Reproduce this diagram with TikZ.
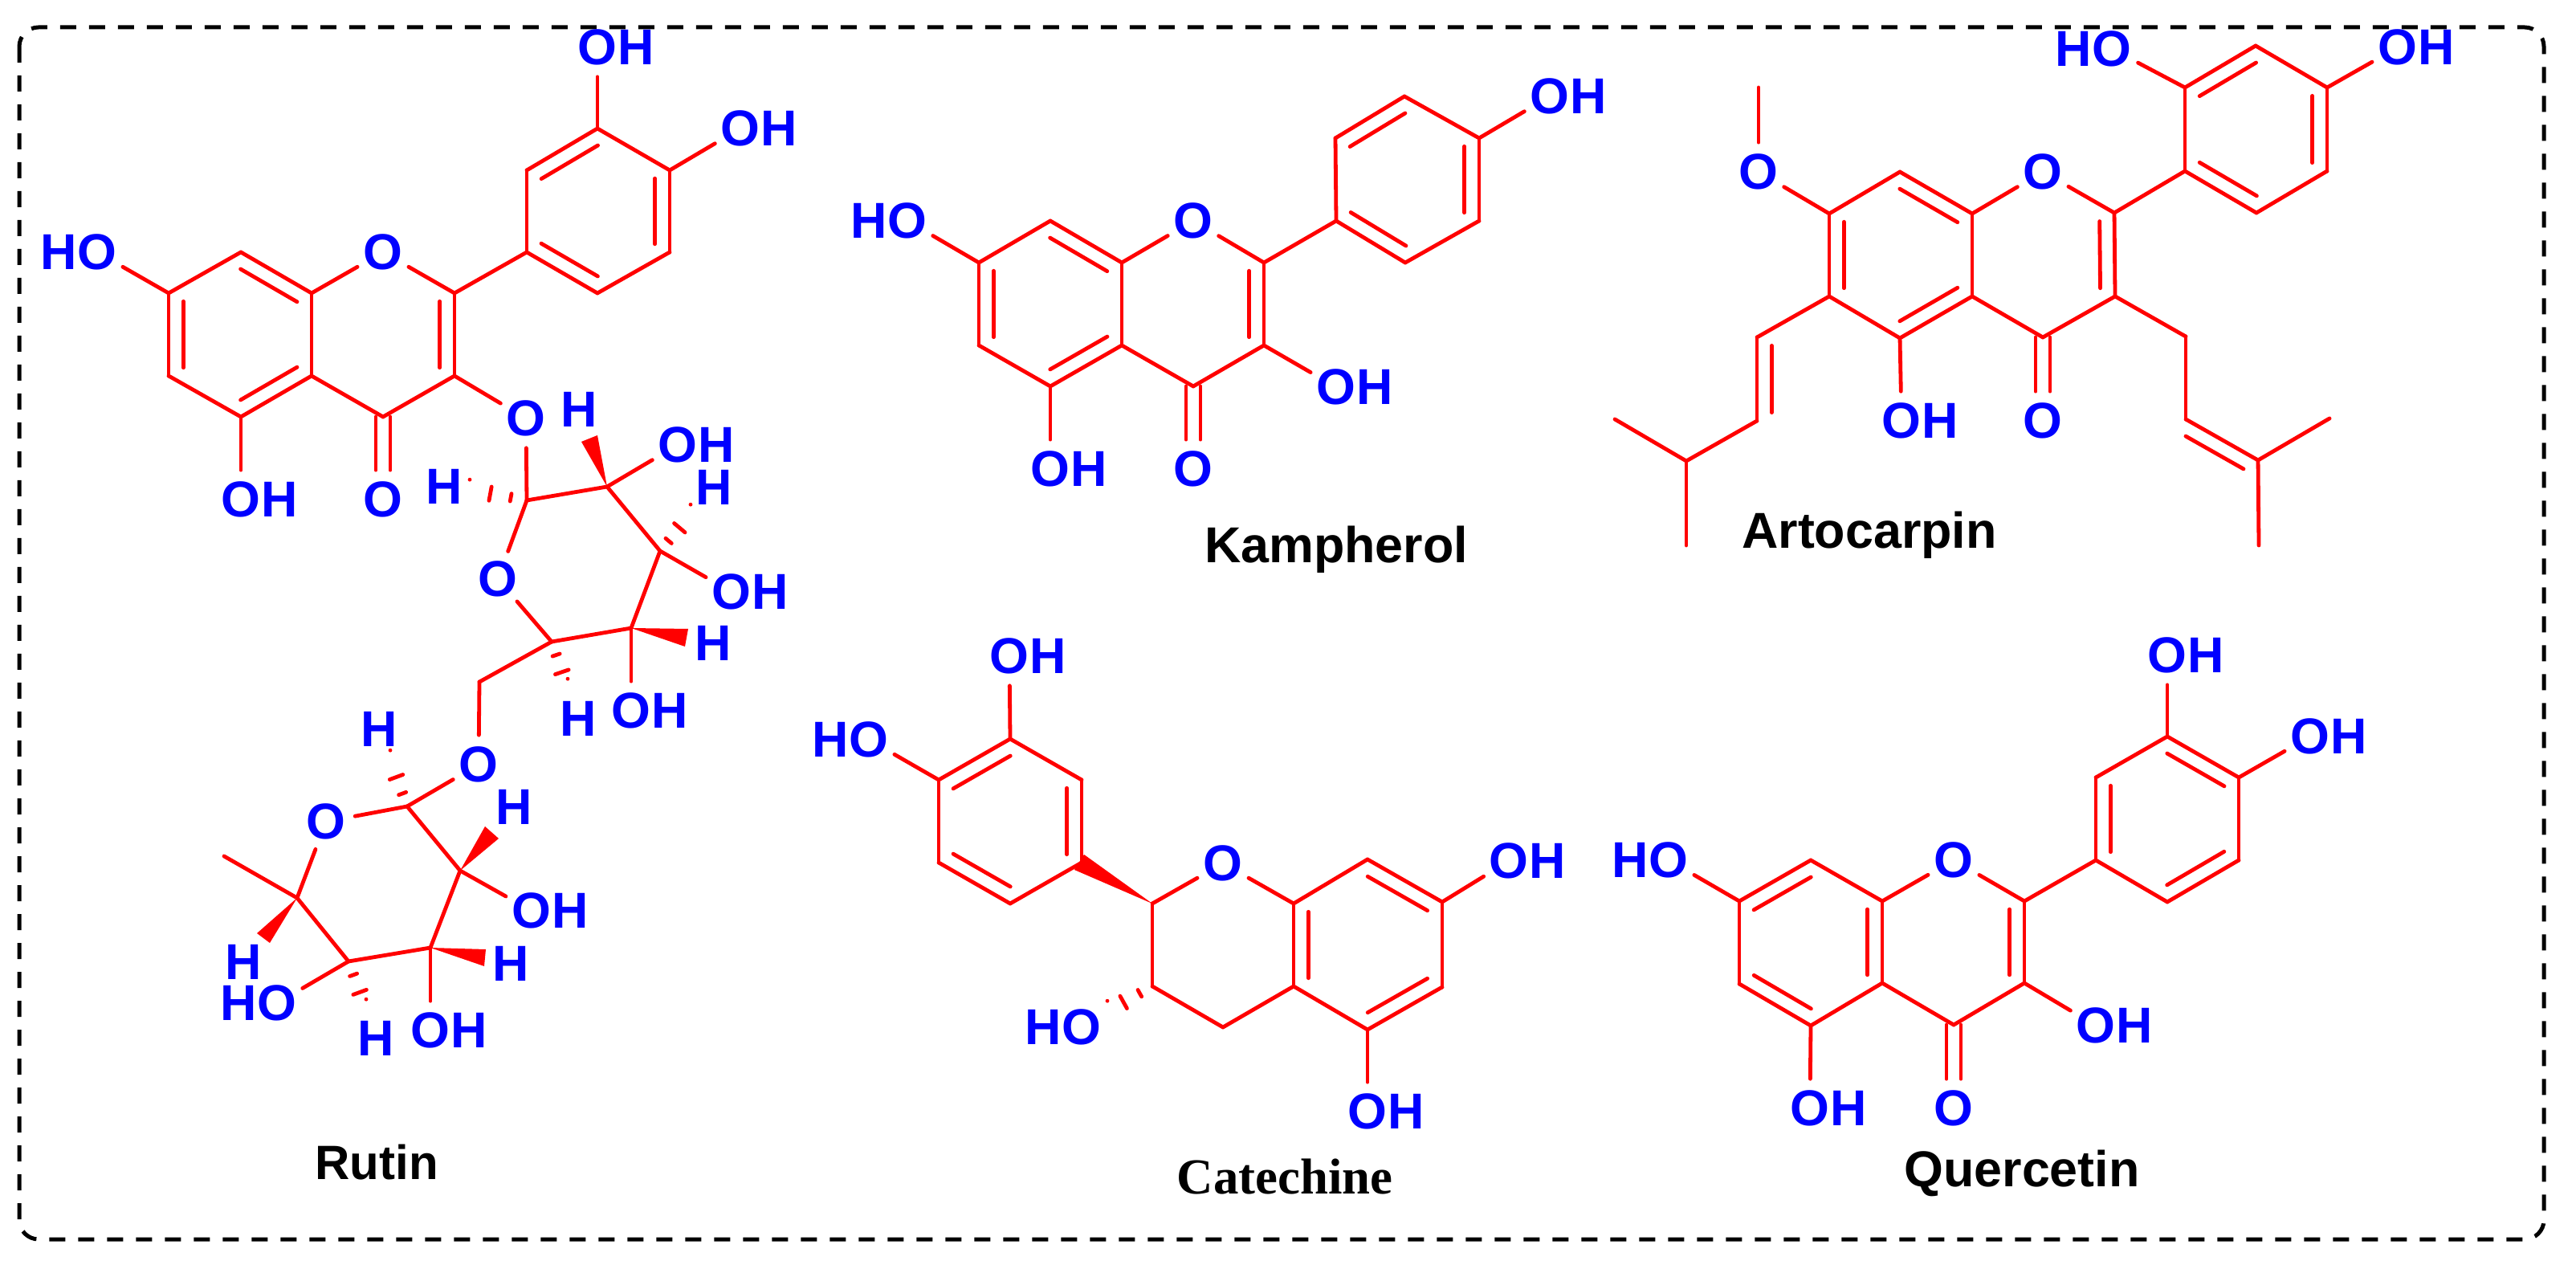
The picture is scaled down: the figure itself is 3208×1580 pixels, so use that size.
\documentclass[tikz,border=0pt]{standalone}
\usepackage{fontspec}
\setmainfont{Liberation Sans}
\newfontfamily\catfont{Liberation Serif}
\usetikzlibrary{calc,positioning}

\definecolor{bondred}{RGB}{255,0,0}
\definecolor{atomblue}{RGB}{0,0,255}

\tikzset{
  bond/.style={draw=bondred, line width=1.2pt, line cap=round, line join=round},
  atom/.style={circle, minimum size=18pt, inner sep=0pt, text=atomblue, font=\fontsize{15.7}{18}\selectfont\bfseries},
  hatom/.style={inner sep=0pt, text=atomblue, font=\fontsize{15.7}{18}\selectfont\bfseries},
  molname/.style={inner sep=0pt, font=\fontsize{15.7}{18}\selectfont\bfseries},
  frame/.style={draw=black, line width=1.25pt, dash pattern=on 5pt off 4pt, rounded corners=6pt}
}

% atoms and labels
\newcommand{\atoms}[1]{\foreach \n/\px/\py in {#1} \coordinate (\n) at (\px,\py);}
\newcommand{\oxy}[2]{\node[atom] (#1) at (#2) {O};}
\newcommand{\oh}[2]{\node[atom] (#1) at (#2) {O}; \node[hatom, right=-3.1pt of #1] (#1h) {H};}
\newcommand{\ho}[2]{\node[atom] (#1) at (#2) {O}; \node[hatom, left=-3.1pt of #1] (#1h) {H};}
\newcommand{\hyd}[2]{\node[hatom] (#1) at (#2) {H};}

% bonds
\newcommand{\bonds}[1]{\foreach \u/\v in {#1} \draw[bond] (\u) -- (\v);}
\newcommand{\inner}[1]{\foreach \u/\v in {#1}
  \draw[bond] ($(\u)!.1!(\v)!4.6pt!-90:(\v)$) -- ($(\u)!.9!(\v)!4.6pt!-90:(\v)$);}
\newcommand{\carbonyl}[2]{
  \draw[bond, transform canvas={xshift=2.25pt}] (#1) -- (#2);
  \draw[bond, transform canvas={xshift=-2.25pt}] (#1) -- (#2);}
\newcommand{\wedgebond}[3]{\fill[bondred] (#1) -- (#2) -- (#3) -- cycle;}
\newcommand{\hashbond}[2]{\foreach \t/\w in {.28/1.2,.64/2.2,1/3.2}
  \draw[bond] ($(#1)!\t!(#2)!\w pt!90:(#2)$) -- ($(#1)!\t!(#2)!\w pt!-90:(#2)$);}

\begin{document}
\begin{tikzpicture}[x=0.25pt, y=-0.25pt]
\useasboundingbox (0,0) rectangle (3208,1580);

% Frame
\draw[frame] (24,34) rectangle (3168,1543);

% Rutin, flavone part
\atoms{rA1/300/314, rA2/388/365, rA3/388/468, rA4/300/519, rA5/210/468, rA6/210/365,
  rC2/566/365, rC3/566/468, rC4/477/519,
  rB1/656/314, rB2/656/212, rB3/744/160, rB4/834/212, rB5/834/314, rB6/744/365}
\oxy{rO}{477,314}
\ho{rOa}{121,314}
\oh{rOb}{744,59}
\oh{rOc}{922,160}
\oh{rOd}{300,622}
\oxy{rOe}{477,622}
\oxy{rOf}{655,521}
\bonds{rA1/rA2, rA2/rA3, rA3/rA4, rA4/rA5, rA5/rA6, rA6/rA1, rA2/rO, rO/rC2, rC2/rC3, rC3/rC4, rC4/rA3,
  rC2/rB1, rB1/rB2, rB2/rB3, rB3/rB4, rB4/rB5, rB5/rB6, rB6/rB1,
  rA6/rOa, rB3/rOb, rB4/rOc, rA4/rOd, rC3/rOf}
\inner{rA1/rA2, rA3/rA4, rA5/rA6, rC2/rC3, rB2/rB3, rB4/rB5, rB6/rB1}
\carbonyl{rC4}{rOe}

% Rutin, first sugar
\atoms{rS1/656/623, rS2/756/606, rS3/822/686, rS4/786/782, rS5/687/799, rS6/597/849,
  rWa/724/550, rWb/744/542, rWc/857/783, rWd/853/805, rXa/585/610, rXb/860/641, rXc/707/858}
\oxy{rSo}{620,721}
\oh{rSa}{844,554}
\oh{rSb}{911,737}
\oh{rSc}{786,885}
\hyd{rHa}{553,606}
\hyd{rHb}{721,510}
\hyd{rHc}{889,607}
\hyd{rHd}{888,801}
\hyd{rHe}{720,895}
\bonds{rOf/rS1, rS1/rS2, rS2/rS3, rS3/rS4, rS4/rS5, rS5/rSo, rSo/rS1, rS5/rS6,
  rS2/rSa, rS3/rSb, rS4/rSc}
\wedgebond{rS2}{rWa}{rWb}
\wedgebond{rS4}{rWc}{rWd}
\hashbond{rS1}{rXa}
\hashbond{rS3}{rXb}
\hashbond{rS5}{rXc}

% Rutin, second sugar
\atoms{rT1/507/1004, rT2/573/1084, rT3/536/1180, rT4/434/1197, rT5/370/1118, rMe/279/1066,
  rWe/604/1029, rWf/621/1044, rWg/605/1182, rWh/603/1203, rWi/320/1162, rWj/336/1174,
  rXd/486/947, rXe/456/1257}
\oxy{rTo}{406,1023}
\oxy{rTl}{596,952}
\oh{rTa}{662,1134}
\oh{rTb}{536,1283}
\ho{rTc}{345,1249}
\hyd{rHf}{472,908}
\hyd{rHg}{640,1005}
\hyd{rHh}{636,1200}
\hyd{rHi}{468,1293}
\hyd{rHj}{303,1198}
\bonds{rS6/rTl, rTl/rT1, rT1/rT2, rT2/rT3, rT3/rT4, rT4/rT5, rT5/rTo, rTo/rT1, rT5/rMe,
  rT2/rTa, rT3/rTb, rT4/rTc}
\wedgebond{rT2}{rWe}{rWf}
\wedgebond{rT3}{rWg}{rWh}
\wedgebond{rT5}{rWi}{rWj}
\hashbond{rT1}{rXd}
\hashbond{rT4}{rXe}
\node[molname, font=\fontsize{15}{18}\selectfont\bfseries] (rName) at (469,1447) {Rutin};

% Kampherol
\atoms{kA1/1308/275, kA2/1397/327, kA3/1397/430, kA4/1308/481, kA5/1219/430, kA6/1219/327,
  kC2/1574/327, kC3/1574/430, kC4/1486/481,
  kB1/1664/275, kB2/1663/172, kB3/1749/120, kB4/1842/172, kB5/1842/275, kB6/1750/327}
\oxy{kO}{1486,275}
\ho{kOa}{1130,275}
\oh{kOb}{1930,120}
\oh{kOc}{1664,482}
\oh{kOd}{1308,584}
\oxy{kOe}{1486,584}
\bonds{kA1/kA2, kA2/kA3, kA3/kA4, kA4/kA5, kA5/kA6, kA6/kA1, kA2/kO, kO/kC2, kC2/kC3, kC3/kC4, kC4/kA3,
  kC2/kB1, kB1/kB2, kB2/kB3, kB3/kB4, kB4/kB5, kB5/kB6, kB6/kB1,
  kA6/kOa, kB4/kOb, kC3/kOc, kA4/kOd}
\inner{kA1/kA2, kA3/kA4, kA5/kA6, kC2/kC3, kB2/kB3, kB4/kB5, kB6/kB1}
\carbonyl{kC4}{kOe}
\node[molname] (kName) at (1664,684) {Kampherol};

% Artocarpin
\atoms{aA1/2366/214, aA2/2456/266, aA3/2456/369, aA4/2366/421, aA5/2278/369, aA6/2278/266,
  aC2/2633/265, aC3/2634/369, aC4/2544/420,
  aB1/2721/213, aB2/2721/109, aB3/2809/57, aB4/2898/109, aB5/2898/213, aB6/2810/265,
  aMe/2190/109,
  aP1/2188/420, aP2/2188/524, aP3/2100/574, aP4/2011/522, aP5/2100/679,
  aQ1/2722/419, aQ2/2722/522, aQ3/2812/573, aQ4/2901/521, aQ5/2813/679}
\oxy{aO}{2544,214}
\ho{aOa}{2630,61}
\oh{aOb}{2986,59}
\oxy{aOc}{2190,214}
\oh{aOd}{2368,524}
\oxy{aOe}{2544,524}
\bonds{aA1/aA2, aA2/aA3, aA3/aA4, aA4/aA5, aA5/aA6, aA6/aA1, aA2/aO, aO/aC2, aC2/aC3, aC3/aC4, aC4/aA3,
  aC2/aB1, aB1/aB2, aB2/aB3, aB3/aB4, aB4/aB5, aB5/aB6, aB6/aB1,
  aB2/aOa, aB4/aOb, aA6/aOc, aOc/aMe, aA4/aOd,
  aA5/aP1, aP1/aP2, aP2/aP3, aP3/aP4, aP3/aP5,
  aC3/aQ1, aQ1/aQ2, aQ2/aQ3, aQ3/aQ4, aQ3/aQ5}
\inner{aA1/aA2, aA3/aA4, aA5/aA6, aC2/aC3, aB2/aB3, aB4/aB5, aB6/aB1, aP2/aP1, aQ2/aQ3}
\carbonyl{aC4}{aOe}
\node[molname] (aName) at (2328,666) {Artocarpin};

% Catechine
\atoms{cB1/1258/920, cB2/1347/971, cB3/1347/1074, cB4/1258/1125, cB5/1169/1074, cB6/1169/971,
  cC2/1435/1125, cC3/1435/1228, cC4/1523/1279,
  cA1/1611/1125, cA2/1703/1070, cA3/1796/1123, cA4/1796/1229, cA5/1703/1282, cA6/1611/1228,
  cWa/1350/1064, cWb/1338/1083, cXa/1379/1259}
\oxy{cO}{1523,1075}
\oh{cOa}{1257,817}
\ho{cOb}{1082,921}
\oh{cOc}{1879,1072}
\oh{cOd}{1703,1384}
\ho{cOe}{1347,1279}
\bonds{cB1/cB2, cB2/cB3, cB3/cB4, cB4/cB5, cB5/cB6, cB6/cB1,
  cC2/cO, cO/cA1, cC2/cC3, cC3/cC4, cC4/cA6,
  cA1/cA2, cA2/cA3, cA3/cA4, cA4/cA5, cA5/cA6, cA6/cA1,
  cB1/cOa, cB6/cOb, cA3/cOc, cA5/cOd}
\inner{cB6/cB1, cB2/cB3, cB4/cB5, cA6/cA1, cA2/cA3, cA4/cA5}
\wedgebond{cC2}{cWa}{cWb}
\hashbond{cC3}{cXa}
\node[molname, font=\catfont\fontsize{15.7}{18}\selectfont\bfseries] (cName) at (1600,1465) {Catechine};

% Quercetin
\atoms{qA1/2255/1071, qA2/2344/1122, qA3/2344/1224, qA4/2255/1277, qA5/2166/1225, qA6/2166/1122,
  qC2/2521/1122, qC3/2521/1224, qC4/2433/1276,
  qB1/2610/1071, qB2/2610/968, qB3/2699/917, qB4/2788/968, qB5/2788/1071, qB6/2699/1123}
\oxy{qO}{2433,1071}
\ho{qOa}{2078,1071}
\oh{qOb}{2699,816}
\oh{qOc}{2877,917}
\oh{qOd}{2610,1277}
\oh{qOe}{2254,1380}
\oxy{qOf}{2433,1380}
\bonds{qA1/qA2, qA2/qA3, qA3/qA4, qA4/qA5, qA5/qA6, qA6/qA1, qA2/qO, qO/qC2, qC2/qC3, qC3/qC4, qC4/qA3,
  qC2/qB1, qB1/qB2, qB2/qB3, qB3/qB4, qB4/qB5, qB5/qB6, qB6/qB1,
  qA6/qOa, qB3/qOb, qB4/qOc, qC3/qOd, qA4/qOe}
\inner{qA6/qA1, qA2/qA3, qA4/qA5, qC2/qC3, qB3/qB4, qB5/qB6, qB1/qB2}
\carbonyl{qC4}{qOf}
\node[molname] (qName) at (2518,1461) {Quercetin};

\end{tikzpicture}
\end{document}
